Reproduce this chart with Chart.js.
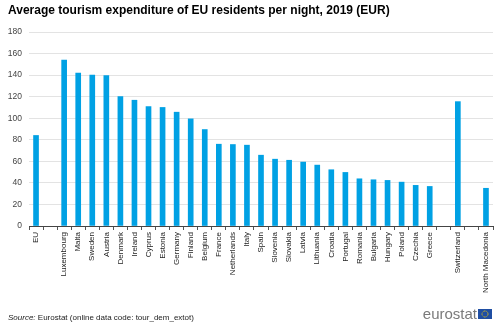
<!DOCTYPE html>
<html>
<head>
<meta charset="utf-8">
<script src="https://cdn.jsdelivr.net/npm/chart.js@4/dist/chart.umd.min.js"></script>
<style>
  body { margin: 0; background: #fff; font-family: "Liberation Sans", Arial, sans-serif; }
  #wrap { position: relative; width: 500px; height: 325px; overflow: hidden; }
  #chart { position: absolute; left: 0; top: 0; }
  .title { position: absolute; left: 8px; top: 3px; font-size: 12px; font-weight: bold; color: #000; white-space: nowrap; }
  .source { position: absolute; left: 8px; top: 313px; font-size: 8px; color: #222; white-space: nowrap; }
  .logo { position: absolute; right: 8px; top: 305px; display: flex; align-items: center; }
  .logo span { font-size: 15px; color: #7a7a7a; letter-spacing: 0px; margin-right: 1px; }
</style>
</head>
<body>
<div id="wrap">
  <canvas id="chart" width="500" height="325"></canvas>
  <div class="title">Average tourism expenditure of EU residents per night, 2019 (EUR)</div>
  <div class="source"><i>Source:</i> Eurostat (online data code: tour_dem_extot)</div>
  <div class="logo"><span>eurostat</span>
    <svg width="14" height="10" viewBox="0 0 14 10">
      <rect width="14" height="10" fill="#1f4ea3"/>
      <circle cx="7" cy="5" r="3" fill="none" stroke="#ffd200" stroke-width="0.9" stroke-dasharray="0.9 0.7"/>
    </svg>
  </div>
</div>
<script>
const countries = ['EU', '', 'Luxembourg', 'Malta', 'Sweden', 'Austria', 'Denmark', 'Ireland', 'Cyprus',
  'Estonia', 'Germany', 'Finland', 'Belgium', 'France', 'Netherlands', 'Italy', 'Spain', 'Slovenia',
  'Slovakia', 'Latvia', 'Lithuania', 'Croatia', 'Portugal', 'Romania', 'Bulgaria', 'Hungary', 'Poland',
  'Czechia', 'Greece', '', 'Switzerland', '', 'North Macedonia'];

const expenditure = [84, null, 154, 142, 140, 139.5, 120, 116.7, 110.8,
  110, 105.6, 99.4, 89.5, 75.9, 75.6, 75, 65.7, 62,
  61, 59.3, 56.5, 52.2, 49.7, 43.8, 42.9, 42.3, 40.7,
  37.7, 36.7, null, 115.4, null, 35];

const yTicks = [0, 20, 40, 60, 80, 100, 120, 140, 160, 180];

const ctx = document.getElementById('chart');

const chart = new Chart(ctx, {
  type: 'bar',
  data: {
    labels: countries,
    datasets: [{
      label: 'EUR per night',
      data: expenditure,
      backgroundColor: '#00a1e4',
      barThickness: 5
    }]
  },
  options: {
    responsive: false,
    animation: false,
    layout: { padding: { top: 32, right: 7, left: 0, bottom: 0 } },
    plugins: {
      legend: { display: false },
      tooltip: { enabled: false }
    },
    scales: {
      x: {
        afterFit: function (scale) { scale.height = 99; },
        grid: {
          drawOnChartArea: false,
          drawTicks: true,
          tickLength: 4,
          color: '#555'
        },
        border: { display: true, color: '#444', width: 1 },
        ticks: {
          autoSkip: false,
          minRotation: 90,
          maxRotation: 90,
          padding: 2,
          color: '#222',
          font: { family: 'Liberation Sans', size: 8 }
        }
      },
      y: {
        min: 0,
        max: 180,
        afterFit: function (scale) { scale.width = 29; },
        afterBuildTicks: function (scale) {
          scale.ticks = yTicks.map(v => ({ value: v }));
        },
        grid: { color: '#e3e3e3', drawTicks: false },
        border: { display: false },
        ticks: {
          padding: 7,
          color: '#444',
          font: { family: 'Liberation Sans', size: 8.5 }
        }
      }
    }
  }
});
</script>
</body>
</html>
